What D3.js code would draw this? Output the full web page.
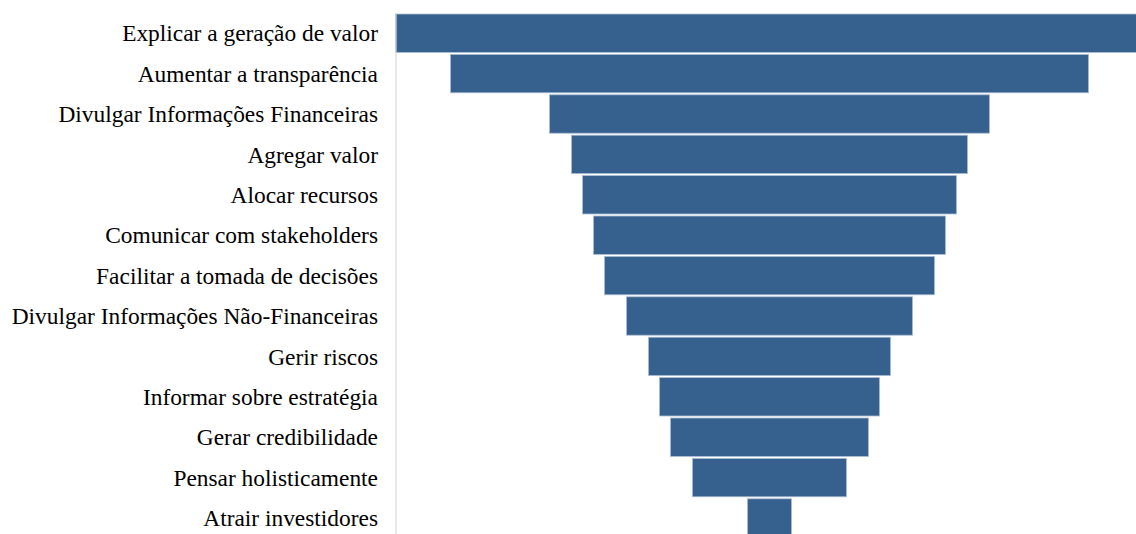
<!DOCTYPE html>
<html lang="pt">
<head>
  <meta charset="UTF-8">
  <title>Funil</title>
  <script src="https://d3js.org/d3.v7.min.js"></script>
  <style>
    body { margin: 0; background: #fff; overflow: hidden; }
    .label { font: 23.4px "Liberation Serif", "Times New Roman", serif; fill: #000; }
  </style>
</head>
<body>
<script>
  // categories, top to bottom
  const categories = [
    "Explicar a geração de valor",
    "Aumentar a transparência",
    "Divulgar Informações Financeiras",
    "Agregar valor",
    "Alocar recursos",
    "Comunicar com stakeholders",
    "Facilitar a tomada de decisões",
    "Divulgar Informações Não-Financeiras",
    "Gerir riscos",
    "Informar sobre estratégia",
    "Gerar credibilidade",
    "Pensar holisticamente",
    "Atrair investidores"
  ];
  const values = [34, 29, 20, 18, 17, 16, 15, 13, 11, 10, 9, 7, 2];

  const width = 1136, height = 534;
  const axisX = 396;      // left edge of plot area
  const center = 769.5;   // funnel centre line

  const svg = d3.select("body").append("svg")
    .attr("width", width).attr("height", height);

  // width scale: each unit ~22px
  const w = d3.scaleLinear().domain([0, 34]).range([0, 748]);

  const y = d3.scaleBand()
    .domain(categories)
    .range([13, 13 + 40.4 * categories.length])
    .paddingInner(0.05)
    .paddingOuter(0.025);

  // bars
  svg.selectAll("rect.bar")
    .data(categories)
    .join("rect")
    .attr("class", "bar")
    .attr("x", (d, i) => center - w(values[i]) / 2)
    .attr("y", d => y(d))
    .attr("width", (d, i) => w(values[i]))
    .attr("height", y.bandwidth())
    .attr("fill", "#36618f")
    .attr("stroke", "#a9bdd3")
    .attr("stroke-width", 0.8);

  // category axis line
  svg.append("line")
    .attr("x1", axisX).attr("x2", axisX)
    .attr("y1", 13).attr("y2", height)
    .attr("stroke", "#d9d9d9")
    .attr("stroke-width", 1.2);

  // labels
  svg.selectAll("text.label")
    .data(categories)
    .join("text")
    .attr("class", "label")
    .attr("x", 378)
    .attr("y", d => y(d) + y.bandwidth() / 2)
    .attr("dy", "0.35em")
    .attr("text-anchor", "end")
    .text(d => d);
</script>
</body>
</html>
